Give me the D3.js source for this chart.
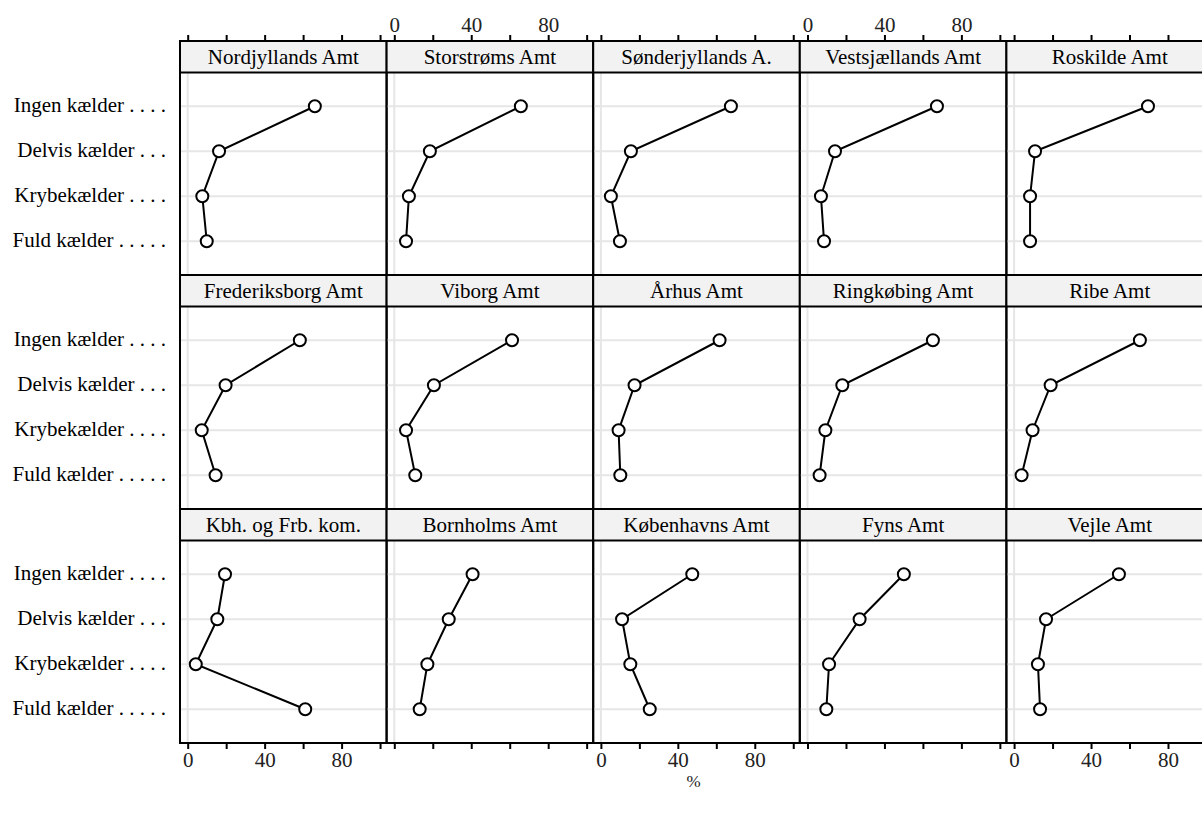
<!DOCTYPE html>
<html>
<head>
<meta charset="utf-8">
<script src="https://cdn.jsdelivr.net/npm/d3@7"></script>
<style>
  body { margin: 0; background: #fff; overflow: hidden; }
  text { font-family: "Liberation Serif", "DejaVu Serif", serif; }
</style>
</head>
<body>
<svg id="chart" width="1202" height="814"></svg>
<script>
// kælder-typer, top to bottom
let levels = ['Ingen kælder', 'Delvis kælder', 'Krybekælder', 'Fuld kælder'];
let levelLabels = ['Ingen kælder . . . .', 'Delvis kælder . . .', 'Krybekælder . . . .', 'Fuld kælder . . . . .'];

// panels in reading order (3 rows x 5 cols)
let amter = [
  'Nordjyllands Amt', 'Storstrøms Amt', 'Sønderjyllands A.', 'Vestsjællands Amt', 'Roskilde Amt',
  'Frederiksborg Amt', 'Viborg Amt', 'Århus Amt', 'Ringkøbing Amt', 'Ribe Amt',
  'Kbh. og Frb. kom.', 'Bornholms Amt', 'Københavns Amt', 'Fyns Amt', 'Vejle Amt'
];

// percent per amt, same order as amter
let ingen  = [66.1, 65.8, 67.6, 67.3, 69.6, 58.3, 61.2, 61.7, 65.2, 65.4, 19.4, 40.7, 47.5, 50.1, 54.5];
let delvis = [16.3, 18.5, 15.6, 14.3, 10.9, 19.7, 20.6, 17.5, 18.1, 19.0, 15.4, 28.3, 11.0, 27.1, 16.6];
let kryb   = [ 7.6,  7.6,  5.2,  7.0,  8.3,  7.3,  6.1,  9.2,  9.3,  9.6,  4.2, 17.2, 15.3, 11.2, 12.4];
let fuld   = [ 9.9,  6.1,  9.9,  8.6,  8.3, 14.5, 10.9, 10.1,  6.3,  3.9, 61.1, 13.2, 25.4,  9.8, 13.5];

let tickValues = [0, 20, 40, 60, 80, 100];
let tickLabels = [0, 40, 80];

let svg = d3.select('#chart');

let leftX = 180, topY = 41;
let colW = 206.6, stripH = 31.5, panelH = 202.5, rowH = stripH + panelH;
let nCol = 5, nRow = 3;

let x = d3.scaleLinear().domain([-4, 103.4]).range([0, colW]);
let y = d3.scalePoint().domain(levels).range([0, panelH]).padding(0.75);

let panels = amter.map((name, i) => ({
  name: name,
  col: i % nCol,
  row: Math.floor(i / nCol),
  values: [ingen[i], delvis[i], kryb[i], fuld[i]]
}));

let g = svg.selectAll('g.panel')
  .data(panels)
  .enter()
  .append('g')
  .attr('class', 'panel')
  .attr('transform', (p) => 'translate(' + (leftX + p.col * colW) + ',' + (topY + p.row * rowH) + ')');

// strip
g.append('rect')
  .attr('width', colW).attr('height', stripH)
  .attr('fill', '#f2f2f2');
g.append('text')
  .attr('x', colW / 2).attr('y', stripH / 2 + 7)
  .attr('text-anchor', 'middle')
  .attr('font-size', 21)
  .text((p) => p.name);

let body = g.append('g').attr('transform', 'translate(0,' + stripH + ')');

// grid
body.selectAll('line.h')
  .data(levels)
  .enter()
  .append('line')
  .attr('x1', 0).attr('x2', colW)
  .attr('y1', (d) => y(d)).attr('y2', (d) => y(d))
  .attr('stroke', '#e6e6e6').attr('stroke-width', 2);
body.append('line')
  .attr('x1', x(0)).attr('x2', x(0))
  .attr('y1', 0).attr('y2', panelH)
  .attr('stroke', '#e6e6e6').attr('stroke-width', 2);

let line = d3.line()
  .x((d) => x(d[1]))
  .y((d) => y(d[0]));

body.append('path')
  .attr('d', (p) => line(levels.map((l, i) => [l, p.values[i]])))
  .attr('fill', 'none')
  .attr('stroke', '#000')
  .attr('stroke-width', 2);

body.selectAll('circle')
  .data((p) => levels.map((l, i) => [l, p.values[i]]))
  .enter()
  .append('circle')
  .attr('cx', (d) => x(d[1]))
  .attr('cy', (d) => y(d[0]))
  .attr('r', 6)
  .attr('fill', '#fff')
  .attr('stroke', '#000')
  .attr('stroke-width', 2);

// borders
g.append('line')
  .attr('x1', 0).attr('x2', colW)
  .attr('y1', stripH).attr('y2', stripH)
  .attr('stroke', '#000').attr('stroke-width', 2);
g.append('rect')
  .attr('width', colW).attr('height', rowH)
  .attr('fill', 'none')
  .attr('stroke', '#000').attr('stroke-width', 2);

// axes: ticks on every column, labels alternating
let bottomY = topY + nRow * rowH;
for (let c = 0; c < nCol; c++) {
  let ox = leftX + c * colW;
  let topAxis = d3.axisTop(x).tickValues(tickValues).tickSize(6)
    .tickFormat((d) => (c % 2 === 1 && tickLabels.includes(d)) ? d : '');
  let botAxis = d3.axisBottom(x).tickValues(tickValues).tickSize(6)
    .tickFormat((d) => (c % 2 === 0 && tickLabels.includes(d)) ? d : '');

  [[topAxis, topY], [botAxis, bottomY]].forEach(([ax, yy]) => {
    let a = svg.append('g')
      .attr('transform', 'translate(' + ox + ',' + yy + ')')
      .call(ax);
    a.select('.domain').remove();
    a.selectAll('.tick line').attr('stroke', '#000').attr('stroke-width', 2);
    a.selectAll('.tick text')
      .attr('font-size', 21)
      .attr('font-family', '"Liberation Serif", serif')
      .attr('fill', '#222');
  });
}

// level labels on the left of each row
for (let r = 0; r < nRow; r++) {
  svg.append('g')
    .selectAll('text')
    .data(levels)
    .enter()
    .append('text')
    .attr('x', 166)
    .attr('y', (d) => topY + r * rowH + stripH + y(d) + 6)
    .attr('text-anchor', 'end')
    .attr('font-size', 21)
    .text((d, i) => levelLabels[i]);
}

svg.append('text')
  .attr('x', leftX + nCol * colW / 2 - 3)
  .attr('y', 787)
  .attr('text-anchor', 'middle')
  .attr('font-size', 17)
  .attr('fill', '#222')
  .text('%');
</script>
</body>
</html>
